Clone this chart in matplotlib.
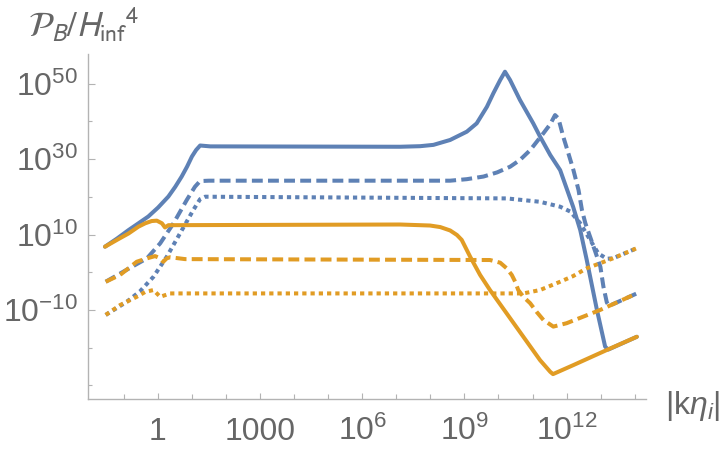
import numpy as np
import matplotlib
matplotlib.use('Agg')
import matplotlib.pyplot as plt
from matplotlib.ticker import FixedLocator, FuncFormatter, NullFormatter

plt.rcParams['font.family'] = ['Liberation Sans', 'DejaVu Sans']
plt.rcParams['mathtext.fontset'] = 'custom'
plt.rcParams['mathtext.rm'] = 'Liberation Sans'
plt.rcParams['mathtext.it'] = 'Liberation Sans:italic'
plt.rcParams['mathtext.bf'] = 'Liberation Sans:bold'
plt.rcParams['mathtext.fallback'] = 'stixsans'

# ---- data (log10 |k eta_i|, log10 P_B/H^4) ----
blue_solid_lk = [-1.55, -1.195, -0.86, -0.578, -0.28, 0.009, 0.31, 0.508, 0.70, 0.86, 1.00, 1.124, 1.242, 1.54,
                 7.11, 7.7, 8.09, 8.58, 9.07, 9.36, 9.66, 9.85, 10.05, 10.19,
                 10.34, 10.63, 11.02, 11.22, 11.52, 11.81, 12.19, 12.40, 12.59, 12.89, 13.13, 13.22, 14.06]
blue_solid_lp = [6.8, 8.97, 11.2, 12.94, 14.8, 17.19, 20.1, 22.63, 25.4, 28.06, 30.7, 32.44, 33.63, 33.4,
                 33.3, 33.45, 33.8, 35.1, 37.3, 39.5, 43.9, 47.5, 51.0, 53.2,
                 51.0, 45.7, 39.5, 36.0, 31.1, 27.1, 17.4, 11.2, 3.3, -10.0, -19.7, -20.5, -17.1]

blue_dash_lk = [-1.53, -0.91, -0.32, 0.07, 0.46, 0.85, 1.09, 1.24, 1.5, 8.58, 9.07, 9.56, 9.96, 10.34, 10.63,
                10.93, 11.32, 11.52, 11.66, 11.76, 11.90, 12.05, 12.20, 12.35, 12.45, 12.55, 12.69, 12.84,
                12.99, 13.08, 13.18, 13.25, 14.06]
blue_dash_lp = [-2.5, 0.7, 3.7, 7.7, 13.0, 19.2, 22.7, 24.2, 24.3, 24.3, 24.7, 25.4, 26.5, 28.0, 29.8,
                32.4, 36.9, 39.3, 41.7, 40.8, 36.0, 31.6, 27.1, 21.8, 16.5, 13.0, 9.4, 5.5,
                1.5, -3.8, -8.0, -8.9, -5.6]

blue_dot_lk = [-1.53, -0.91, -0.52, -0.13, 0.26, 0.65, 1.04, 1.24, 1.39, 10.24, 11.22, 11.81, 12.11, 12.40,
               12.69, 12.93, 13.18, 13.36, 14.06]
blue_dot_lp = [-11.3, -7.8, -5.0, -1.2, 4.1, 10.3, 16.5, 19.4, 20.05, 19.6, 18.7, 17.4, 16.1, 13.0,
               8.6, 5.0, 3.6, 3.7, 6.4]

orange_solid_lk = [-1.55, -1.16, -0.86, -0.57, -0.37, -0.18, -0.03, 0.12, 0.21, 0.31, 7.11, 7.99, 8.29,
                   8.58, 8.78, 8.92, 9.02, 9.17, 9.46, 9.75, 10.24, 10.73, 11.22, 11.52, 11.60, 12.2,
                   13.18, 14.06]
orange_solid_lp = [6.8, 8.8, 10.3, 12.1, 13.0, 13.6, 13.7, 13.0, 11.9, 12.5, 12.68, 12.41, 12.0,
                   11.1, 9.9, 8.6, 6.8, 4.1, -0.7, -4.7, -10.9, -17.1, -23.3, -26.4, -27.0, -24.6,
                   -20.6, -17.1]

orange_dash_lk = [-1.53, -1.11, -0.62, -0.32, -0.08, 0.07, 0.16, 0.26, 0.36, 0.8, 9.75, 10.05, 10.24,
                  10.39, 10.49, 10.58, 10.73, 10.93, 11.12, 11.32, 11.61, 12.0, 12.98, 14.06]
orange_dash_lp = [-2.5, -0.7, 2.8, 3.7, 4.3, 3.7, 2.8, 3.7, 4.0, 3.5, 3.26, 2.55, 1.06,
                  -0.7, -2.5, -4.7, -6.5, -8.2, -10.5, -12.65, -14.4, -13.5, -10.0, -5.6]

orange_dot_lk = [-1.53, -1.11, -0.62, -0.37, -0.13, 0.07, 0.36, 0.8, 10.73, 11.22, 11.81, 12.19, 12.59,
                 13.36, 14.06]
orange_dot_lp = [-11.3, -8.7, -6.5, -5.2, -4.7, -6.5, -5.6, -5.6, -5.6, -4.7, -2.5, -1.0, 1.06,
                 3.7, 6.4]

x_label_exps = [0, 3, 6, 9, 12]
x_minor_exps = [-1, 1, 2, 4, 5, 7, 8, 10, 11, 13, 14]
y_label_exps = [-10, 10, 30, 50]
y_minor_exps = [-30, -20, 0, 20, 40]

BLUE = '#5E81B5'
ORANGE = '#E19C24'
TXT = '#666666'
AXC = '#b3b3b3'

fig = plt.figure(figsize=(7.25, 4.5), dpi=100)
ax = fig.add_axes([88/725, 1-399/450, (646-88)/725, (399-54)/450])

lw = 2.9
series = [
    (blue_solid_lk, blue_solid_lp, BLUE, 'solid'),
    (blue_dash_lk, blue_dash_lp, BLUE, 'dash'),
    (blue_dot_lk, blue_dot_lp, BLUE, 'dot'),
    (orange_solid_lk, orange_solid_lp, ORANGE, 'solid'),
    (orange_dash_lk, orange_dash_lp, ORANGE, 'dash'),
    (orange_dot_lk, orange_dot_lp, ORANGE, 'dot'),
]
for lk, lp, c, st in series:
    x = 10.0 ** np.array(lk)
    y = 10.0 ** np.array(lp)
    if st == 'solid':
        ax.plot(x, y, color=c, lw=lw, solid_capstyle='round', solid_joinstyle='round')
    elif st == 'dash':
        ax.plot(x, y, color=c, lw=lw, linestyle=(0, (2.7, 1.3)), dash_joinstyle='round')
    else:
        ax.plot(x, y, color=c, lw=lw, linestyle=(0, (1.05, 1.0)), dash_joinstyle='round')

ax.set_xscale('log')
ax.set_yscale('log')
ax.set_xlim(10**-2.05, 10**14.33)
ax.set_ylim(10**-33.6, 10**57.9)

for s in ['top', 'right']:
    ax.spines[s].set_visible(False)
for s in ['left', 'bottom']:
    ax.spines[s].set_color(AXC)
    ax.spines[s].set_linewidth(1.0)

def xfmt(v, pos):
    e = int(round(np.log10(v)))
    if e == 0:
        return '1'
    if e == 3:
        return '1000'
    return r'$\mathregular{10^{%d}}$' % e

def yfmt(v, pos):
    e = int(round(np.log10(v)))
    return r'$\mathregular{10^{%d}}$' % e

ax.xaxis.set_major_locator(FixedLocator([10.0**e for e in x_label_exps]))
ax.xaxis.set_minor_locator(FixedLocator([10.0**e for e in x_minor_exps]))
ax.xaxis.set_major_formatter(FuncFormatter(xfmt))
ax.xaxis.set_minor_formatter(NullFormatter())
ax.yaxis.set_major_locator(FixedLocator([10.0**e for e in y_label_exps]))
ax.yaxis.set_minor_locator(FixedLocator([10.0**e for e in y_minor_exps]))
ax.yaxis.set_major_formatter(FuncFormatter(yfmt))
ax.yaxis.set_minor_formatter(NullFormatter())

fs = 23
ax.tick_params(axis='both', which='both', direction='in', color=AXC, labelcolor=TXT, labelsize=fs)
ax.tick_params(axis='x', which='major', length=4.5, width=0.8, pad=29.5)
ax.tick_params(axis='x', which='minor', length=3.5, width=0.8)
ax.tick_params(axis='y', which='major', length=5, width=0.8, pad=7)
ax.tick_params(axis='y', which='minor', length=3, width=0.8)

for t in ax.xaxis.get_major_ticks():
    t.label1.set_verticalalignment('baseline')

fig.text(28/725, 1-37/450, r'$\mathcal{P}_B/H_{\mathrm{inf}}{}^4$', fontsize=25, color=TXT,
         math_fontfamily='stixsans', va='baseline', ha='left')
fig.text(665/725, 1-414/450, r'$|\mathrm{k}\eta_i|$', fontsize=fs, color=TXT, va='baseline', ha='left')

fig.savefig('out.png', dpi=100)
